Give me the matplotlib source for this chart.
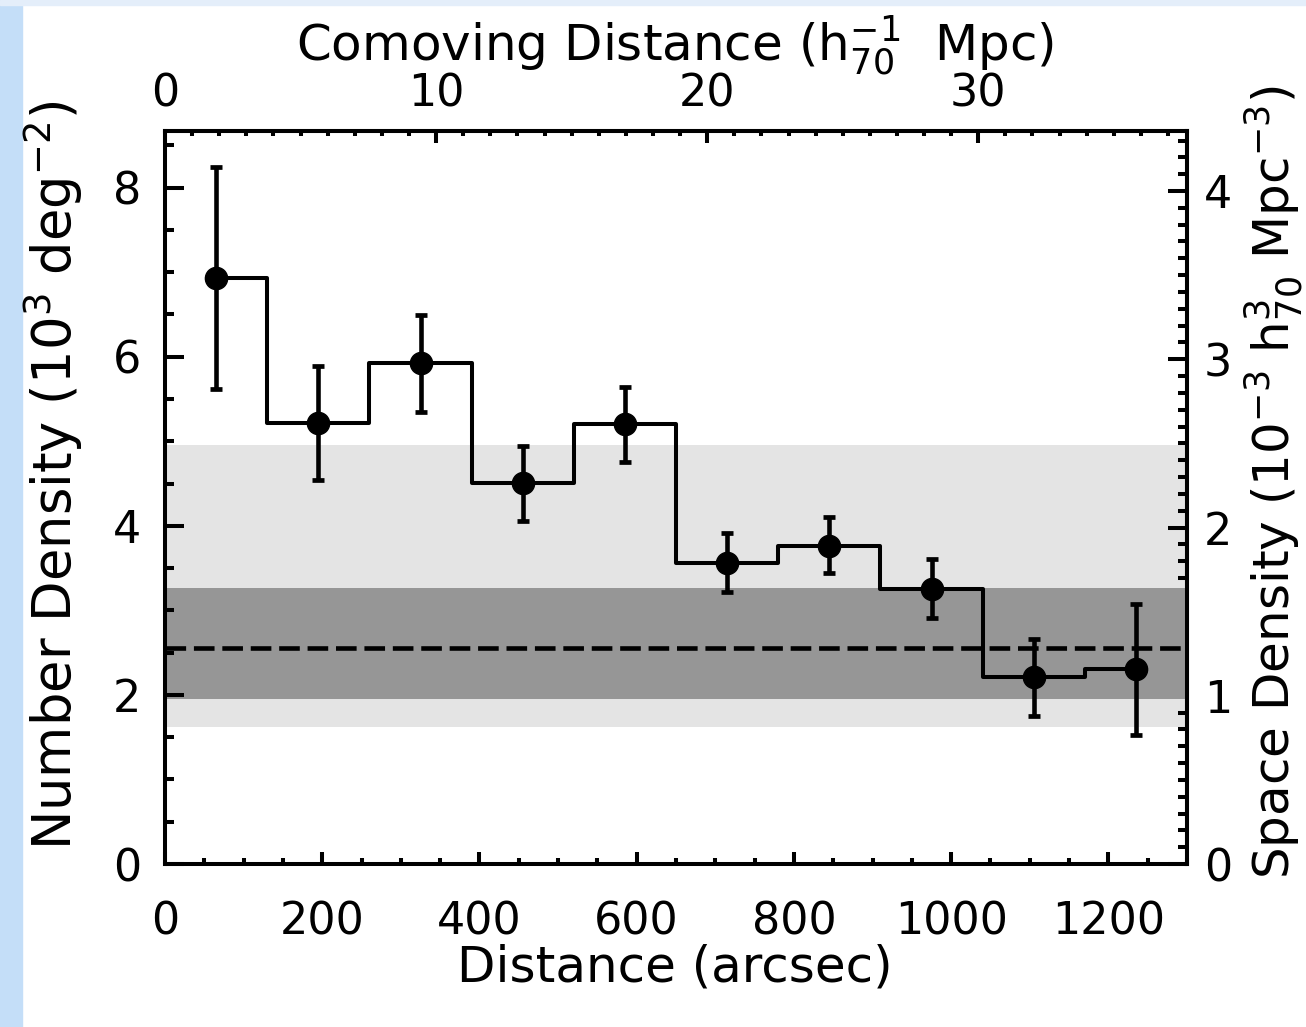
import numpy as np
import matplotlib
matplotlib.use('Agg')
import matplotlib.pyplot as plt
from matplotlib.ticker import MultipleLocator, FixedLocator
from matplotlib.patches import Rectangle

# binned radial number density around the cluster
distance = [65, 195, 325, 455, 585, 715, 845, 975, 1105, 1235]  # arcsec
density = [6.93, 5.22, 5.92, 4.51, 5.20, 3.56, 3.76, 3.25, 2.21, 2.31]
err_hi = [8.25, 5.89, 6.49, 4.95, 5.64, 3.92, 4.11, 3.61, 2.66, 3.08]
err_lo = [5.62, 4.54, 5.35, 4.06, 4.75, 3.22, 3.44, 2.91, 1.75, 1.53]

# field level and its scatter bands
field_mean = 2.56
field_1sig = [1.95, 3.27]
field_2sig = [1.62, 4.96]

MPC_PER_ARCSEC = 37.7 / 1300.0
SPACE_PER_NUMBER = 1.0 / 1.99

plt.rcParams['font.family'] = 'DejaVu Sans'
FS = 32      # tick labels
LFS = 36     # axis titles
LW = 2.9
W, H = 1306, 1027

fig = plt.figure(figsize=(W / 100, H / 100), dpi=100)

# slide background strips
fig.patches.append(Rectangle((0, 0), 22 / W, 1, transform=fig.transFigure,
                             color='#c4def8', zorder=-10))
fig.patches.append(Rectangle((0, 1 - 5 / H), 1, 5 / H, transform=fig.transFigure,
                             color='#e4eefa', zorder=-10))

ax = fig.add_axes([165 / W, 1 - 864 / H, 1022 / W, 733 / H])
ax.set_xlim(0, 1300)
ax.set_ylim(0, 8.67)

ax.axhspan(field_2sig[0], field_2sig[1], color='#e4e4e4', lw=0, zorder=0)
ax.axhspan(field_1sig[0], field_1sig[1], color='#969696', lw=0, zorder=1)
ax.axhline(field_mean, color='k', lw=3.3, ls=(0, (4.5, 1.7)), zorder=2)

ax.plot(distance, density, drawstyle='steps-mid', color='k', lw=LW, zorder=3)
yerr = [np.array(density) - np.array(err_lo), np.array(err_hi) - np.array(density)]
ax.errorbar(distance, density, yerr=yerr, fmt='o', color='k', ms=16,
            elinewidth=3.3, capsize=4.6, capthick=3.4, zorder=4)

for s in ax.spines.values():
    s.set_linewidth(LW)

ax.xaxis.set_major_locator(MultipleLocator(200))
ax.xaxis.set_minor_locator(MultipleLocator(50))
ax.yaxis.set_major_locator(MultipleLocator(2))
ax.yaxis.set_minor_locator(MultipleLocator(0.5))
ax.tick_params(axis='x', which='both', direction='in', top=False, labelsize=FS,
               pad=26, width=LW)
ax.tick_params(axis='x', which='major', length=8.6)
ax.tick_params(axis='x', which='minor', length=4.3)
ax.tick_params(axis='y', which='both', direction='in', right=False, labelsize=FS,
               pad=17, width=LW)
ax.tick_params(axis='y', which='major', length=13.7)
ax.tick_params(axis='y', which='minor', length=6.8)

# comoving distance on top
top = ax.secondary_xaxis('top', functions=(lambda x: x * MPC_PER_ARCSEC,
                                            lambda m: m / MPC_PER_ARCSEC))
top.xaxis.set_major_locator(FixedLocator([0, 10, 20, 30]))
top.xaxis.set_minor_locator(MultipleLocator(1))
top.tick_params(which='both', direction='in', labelsize=FS, pad=11, width=LW)
top.tick_params(which='major', length=8.6)
top.tick_params(which='minor', length=3.6)
top.spines['top'].set_linewidth(LW)

# space density on the right
right = ax.secondary_yaxis('right', functions=(lambda y: y * SPACE_PER_NUMBER,
                                                lambda s: s / SPACE_PER_NUMBER))
right.yaxis.set_major_locator(MultipleLocator(1))
right.yaxis.set_minor_locator(MultipleLocator(0.1))
right.tick_params(which='both', direction='in', labelsize=FS, pad=12, width=LW)
right.tick_params(which='major', length=13.7)
right.tick_params(which='minor', length=6.5)
right.spines['right'].set_linewidth(LW)

# axis titles, placed on their baselines
fig.text(675 / W, 1 - 981 / H, 'Distance (arcsec)', fontsize=LFS,
         ha='center', va='baseline')
fig.text(675 / W, 1 - 61 / H, r'Comoving Distance (h$_{70}^{-1}$  Mpc)', fontsize=LFS,
         ha='center', va='baseline')
fig.text(72 / W, 1 - 475 / H, r'Number Density (10$^{3}$ deg$^{-2}$)', fontsize=38,
         rotation=90, rotation_mode='anchor', ha='center', va='baseline')
fig.text(1290 / W, 1 - 482 / H, r'Space Density (10$^{-3}$ h$_{70}^{3}$ Mpc$^{-3}$)',
         fontsize=LFS, rotation=90, rotation_mode='anchor', ha='center', va='baseline')

plt.savefig('out.png', dpi=100)
plt.close()
